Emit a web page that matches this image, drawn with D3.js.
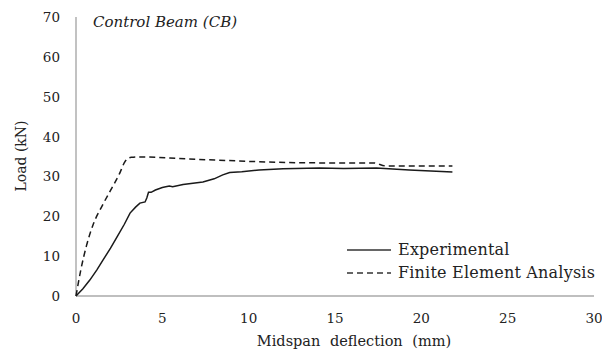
<!DOCTYPE html>
<html>
<head>
<meta charset="utf-8">
<script src="https://cdn.jsdelivr.net/npm/d3@7"></script>
<style>
  body { margin: 0; background: #fff; }
  text { font-family: "DejaVu Serif", serif; fill: #222; }
</style>
</head>
<body>
<svg id="canvas" width="602" height="358"></svg>
<script>
// valori
const sperimentale = [
  [0, 0], [0.4, 1.8], [0.8, 4.0], [1.2, 6.5], [1.56, 9.0], [2.0, 12.0], [2.37, 14.8],
  [2.8, 18.0], [3.13, 20.8], [3.45, 22.3], [3.7, 23.3], [4.0, 23.6],
  [4.1, 24.6], [4.2, 26.0], [4.35, 26.0], [4.6, 26.6], [5.0, 27.2], [5.4, 27.6],
  [5.6, 27.4], [6.2, 28.0], [7.35, 28.6], [8.0, 29.4], [8.5, 30.4], [8.9, 31.0],
  [9.6, 31.2], [10.6, 31.6], [12.0, 31.9], [14.1, 32.1], [15.5, 32.0],
  [17.4, 32.1], [19.3, 31.6], [21.8, 31.1]
];
const fem = [
  [0, 0], [0.3, 7], [0.6, 12.5], [1.0, 18], [1.5, 22.5], [2.0, 26.5],
  [2.5, 30.5], [2.85, 33.8], [3.2, 34.8], [3.6, 34.9], [6.4, 34.4], [14.1, 33.4],
  [17.2, 33.4], [18.0, 32.6], [21.8, 32.6]
];
const tickX = [0, 5, 10, 15, 20, 25, 30];
const tickY = [0, 10, 20, 30, 40, 50, 60, 70];
const serie = ["Experimental", "Finite Element Analysis"];

const svg = d3.select("#canvas");

const scalaX = d3.scaleLinear().domain([0, 30]).range([76, 594]);
const scalaY = d3.scaleLinear().domain([0, 70]).range([296, 17]);

// assi
svg.append("line")
  .attr("x1", scalaX(0)).attr("x2", scalaX(0))
  .attr("y1", scalaY(0)).attr("y2", scalaY(70))
  .attr("stroke", "#999").attr("stroke-width", 1.2);
svg.append("line")
  .attr("x1", scalaX(0)).attr("x2", scalaX(30))
  .attr("y1", scalaY(0)).attr("y2", scalaY(0))
  .attr("stroke", "#aaa").attr("stroke-width", 1.5);

svg.selectAll("text.tx")
  .data(tickX)
  .enter()
  .append("text")
  .attr("class", "tx")
  .attr("x", d => scalaX(d))
  .attr("y", 323)
  .attr("text-anchor", "middle")
  .attr("font-size", 13.5)
  .text(d => d);

svg.selectAll("text.ty")
  .data(tickY)
  .enter()
  .append("text")
  .attr("class", "ty")
  .attr("x", 60)
  .attr("y", d => scalaY(d) + 5)
  .attr("text-anchor", "end")
  .attr("font-size", 13.5)
  .text(d => d);

svg.append("text")
  .attr("x", 354).attr("y", 346)
  .attr("text-anchor", "middle")
  .attr("font-size", 14.5)
  .attr("word-spacing", 5)
  .text("Midspan deflection (mm)");

svg.append("text")
  .attr("transform", "translate(26,156) rotate(-90)")
  .attr("text-anchor", "middle")
  .attr("font-size", 14)
  .text("Load (kN)");

svg.append("text")
  .attr("x", 93).attr("y", 27)
  .attr("font-size", 15)
  .attr("font-style", "italic")
  .text("Control Beam (CB)");

// curve
const linea = d3.line().x(d => scalaX(d[0])).y(d => scalaY(d[1]));

svg.append("path")
  .datum(sperimentale)
  .attr("d", linea)
  .attr("fill", "none")
  .attr("stroke", "#1a1a1a")
  .attr("stroke-width", 1.5);

svg.append("path")
  .datum(fem)
  .attr("d", linea.curve(d3.curveMonotoneX))
  .attr("fill", "none")
  .attr("stroke", "#1a1a1a")
  .attr("stroke-width", 1.5)
  .attr("stroke-dasharray", "6,4");

// legenda
const legenda = svg.selectAll("g.leg")
  .data(serie)
  .enter()
  .append("g")
  .attr("class", "leg")
  .attr("transform", (d, i) => `translate(347,${250 + i * 23})`);

legenda.append("line")
  .attr("x1", 0).attr("x2", 44)
  .attr("y1", 0).attr("y2", 0)
  .attr("stroke", "#333")
  .attr("stroke-width", 1.5)
  .attr("stroke-dasharray", (d, i) => i ? "6,4" : null);

legenda.append("text")
  .attr("x", 51).attr("y", 5)
  .attr("font-size", 16)
  .attr("letter-spacing", 0.2)
  .text(d => d);
</script>
</body>
</html>
